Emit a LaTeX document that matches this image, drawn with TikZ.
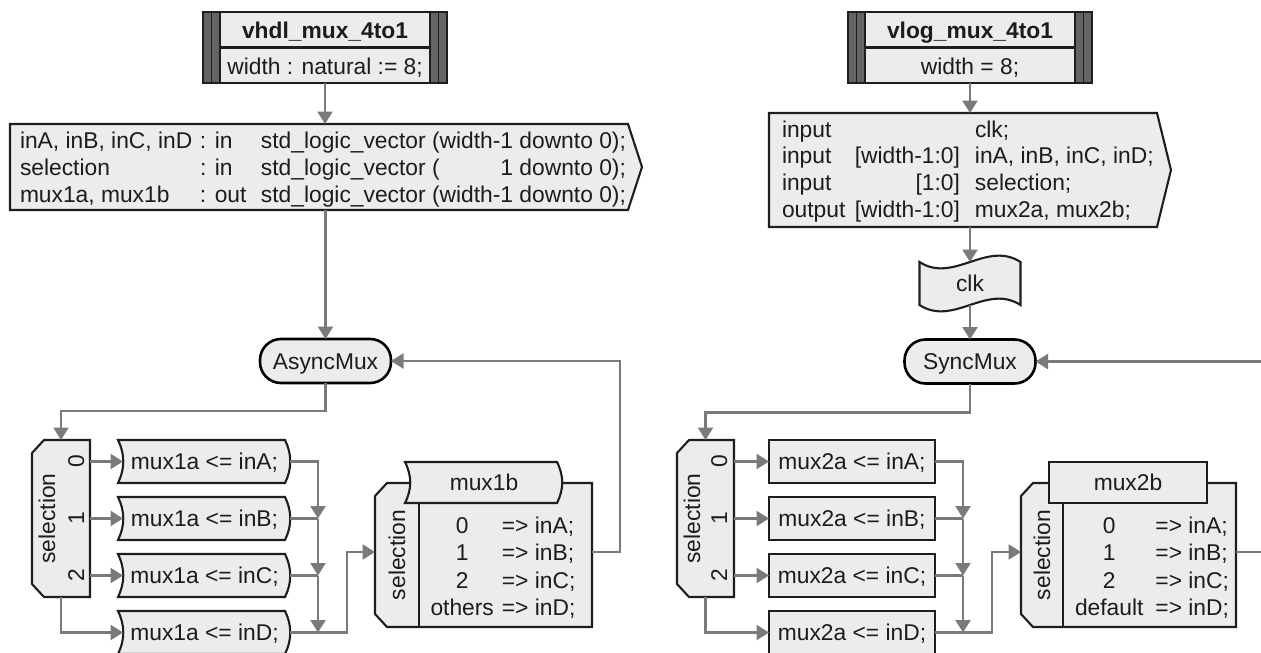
\documentclass[tikz,border=0pt]{standalone}
\usepackage{fontspec}
\setmainfont{Liberation Sans}
\usetikzlibrary{arrows.meta}
\definecolor{boxfill}{RGB}{236,236,236}
\definecolor{boxline}{RGB}{30,30,30}
\definecolor{connline}{RGB}{122,122,122}
\definecolor{bardark}{RGB}{100,100,100}
\definecolor{txtcol}{RGB}{28,28,28}
\tikzset{
  area/.style={draw=none, rectangle, inner sep=0pt, outer sep=0pt},
  lbl/.style={inner sep=0pt, outer sep=0pt, text=txtcol, font=\fontsize{22.8}{26.7}\selectfont, text height=16.4pt, text depth=0pt},
  lblb/.style={lbl, font=\fontsize{22.8}{26.7}\selectfont\bfseries},
  rows/.style={inner sep=0pt, outer sep=0pt, text=txtcol, font=\fontsize{22.8}{26.7}\selectfont, anchor=west},
  caserows/.style={rows, font=\fontsize{22.8}{27.3}\selectfont},
  shp/.style={fill=boxfill, draw=boxline, line width=2.1pt, line join=miter},
  rectbox/.style={lbl, rectangle, fill=boxfill, draw=boxline, line width=2.1pt},
  term/.style={lbl, rectangle, rounded corners=21pt, fill=boxfill, draw=black, line width=2.6pt, minimum width=131pt, minimum height=44pt},
  conn/.style={draw=connline, line width=2.4pt},
  arr/.style={conn, -{Triangle[length=12.5pt,width=15pt]}},
}
\newcommand\curvybox[1]{%
  \path[shp] ([xshift=-3pt]#1.north west) .. controls +(7,14) and +(7,-14) .. ([xshift=-3pt]#1.south west)
    -- ([xshift=-3pt]#1.south east) .. controls +(7,-14) and +(7,14) .. ([xshift=-3pt]#1.north east) -- cycle;}
\newcommand\casebox[1]{%
  \path[shp] ([yshift=-13pt]#1.north west) -- ([xshift=12pt]#1.north west) -- (#1.north east)
    -- (#1.south east) -- ([xshift=12pt]#1.south west) -- ([yshift=13pt]#1.south west) -- cycle;}
\newcommand\titlebox[1]{%
  \path[fill=boxfill] (#1.north west) rectangle (#1.south east);
  \path[fill=bardark] (#1.north west) rectangle ([xshift=17pt]#1.south west);
  \path[fill=bardark] ([xshift=-17pt]#1.north east) rectangle (#1.south east);
  \draw[boxline, line width=1.7pt] ([xshift=8.5pt]#1.north west) -- ([xshift=8.5pt]#1.south west);
  \draw[boxline, line width=1.7pt] ([xshift=17pt]#1.north west) -- ([xshift=17pt]#1.south west);
  \draw[boxline, line width=1.7pt] ([xshift=-8.5pt]#1.north east) -- ([xshift=-8.5pt]#1.south east);
  \draw[boxline, line width=1.7pt] ([xshift=-17pt]#1.north east) -- ([xshift=-17pt]#1.south east);
  \draw[boxline, line width=2.1pt] ([xshift=17pt]#1.west) -- ([xshift=-17pt]#1.east);
  \draw[boxline, line width=2.1pt] (#1.north west) rectangle (#1.south east);}
\begin{document}
\begin{tikzpicture}[x=1pt,y=-1pt]
\path[use as bounding box, fill=white] (0,0) rectangle (1261,653);
\clip (0,0) rectangle (1261,653);

% ---------------- areas ----------------
\node[area, minimum width=244pt, minimum height=71pt] (T1) at (325,47.5) {};
\node[area, minimum width=618pt, minimum height=86pt] (P1) at (319,167) {};
\node[area, minimum width=58pt, minimum height=157pt] (Sel1) at (61,518.5) {};
\foreach \i in {1,2,3,4} {
  \node[area, minimum width=167pt, minimum height=43pt] (M\i) at (204.5,{461.5+57*(\i-1)}) {};
}
\node[area, minimum width=217pt, minimum height=144pt] (Case1) at (483.5,555) {};
\node[area, minimum width=152pt, minimum height=41pt] (H1) at (484,482.5) {};

\node[area, minimum width=244pt, minimum height=71pt] (T2) at (970,47.5) {};
\node[area, minimum width=388pt, minimum height=114pt] (P2) at (963,170) {};
\node[area, minimum width=101pt, minimum height=43pt] (F) at (970,283.5) {};
\node[area, minimum width=57pt, minimum height=157pt] (Sel2) at (705.5,518.5) {};
\node[area, minimum width=215pt, minimum height=144pt] (Case2) at (1128.5,555) {};

% ---------------- shapes ----------------
\titlebox{T1}
\titlebox{T2}
\path[shp] (P1.north west) -- (P1.north east) -- ([xshift=14pt]P1.east) -- (P1.south east) -- (P1.south west) -- cycle;
\path[shp] (P2.north west) -- (P2.north east) -- ([xshift=14pt]P2.east) -- (P2.south east) -- (P2.south west) -- cycle;
\path[shp] (F.north west) .. controls +(34,22) and +(-34,-22) .. (F.north east) -- (F.south east)
  .. controls +(-34,-22) and +(34,22) .. (F.south west) -- cycle;
\casebox{Sel1}
\casebox{Sel2}
\foreach \i in {1,2,3,4} {\curvybox{M\i}}
\casebox{Case1}
\draw[boxline, line width=2.1pt] ([xshift=44pt]Case1.north west) -- ([xshift=44pt]Case1.south west);
\curvybox{H1}
\casebox{Case2}
\draw[boxline, line width=2.1pt] ([xshift=42pt]Case2.north west) -- ([xshift=42pt]Case2.south west);

% ---------------- texts ----------------
\node[lblb] (T1a) at (325,30) {vhdl\_mux\_4to1};
\node[lbl] (T1b) at (325,66) {width : natural := 8;};
\node[lblb] (T2a) at (970,30) {vlog\_mux\_4to1};
\node[lbl] (T2b) at (970,66) {width = 8;};

\node[rows] (P1r) at (20,170) {\begin{tabular}{@{}l@{}}
\makebox[180pt][l]{inA, inB, inC, inD}\makebox[61pt][l]{: in}std\_logic\_vector (width-1 downto 0);\\
\makebox[180pt][l]{selection}\makebox[61pt][l]{: in}std\_logic\_vector (\hphantom{width-}1 downto 0);\\
\makebox[180pt][l]{mux1a, mux1b}\makebox[61pt][l]{: out}std\_logic\_vector (width-1 downto 0);
\end{tabular}};

\node[rows] (P2r) at (782,172) {\begin{tabular}{@{}l@{}}
\makebox[72pt][l]{input}\makebox[106pt][r]{}\hspace{15pt}clk;\\
\makebox[72pt][l]{input}\makebox[106pt][r]{[width-1:0]}\hspace{15pt}inA, inB, inC, inD;\\
\makebox[72pt][l]{input}\makebox[106pt][r]{[1:0]}\hspace{15pt}selection;\\
\makebox[72pt][l]{output}\makebox[106pt][r]{[width-1:0]}\hspace{15pt}mux2a, mux2b;
\end{tabular}};

\node[lbl] (Ft) at (970,283.5) {clk};

\node[term] (Async) at (325.5,361) {AsyncMux};
\node[term] (Sync) at (970,361.5) {SyncMux};

\node[lbl, rotate=90] (Sel1t) at (47,518.5) {selection};
\node[lbl, rotate=90] (Sel1a) at (76,461.5) {0};
\node[lbl, rotate=90] (Sel1b) at (76,518.5) {1};
\node[lbl, rotate=90] (Sel1c) at (76,575.5) {2};
\node[lbl, rotate=90] (Sel2t) at (692,518.5) {selection};
\node[lbl, rotate=90] (Sel2a) at (719,461.5) {0};
\node[lbl, rotate=90] (Sel2b) at (719,518.5) {1};
\node[lbl, rotate=90] (Sel2c) at (719,575.5) {2};

\node[lbl] (M1t) at (M1) {mux1a <= inA;};
\node[lbl] (M2t) at (M2) {mux1a <= inB;};
\node[lbl] (M3t) at (M3) {mux1a <= inC;};
\node[lbl] (M4t) at (M4) {mux1a <= inD;};

\node[rectbox, minimum width=166pt, minimum height=43pt] (N1) at (852,461.5) {mux2a <= inA;};
\node[rectbox, minimum width=166pt, minimum height=43pt] (N2) at (852,518.5) {mux2a <= inB;};
\node[rectbox, minimum width=166pt, minimum height=43pt] (N3) at (852,575.5) {mux2a <= inC;};
\node[rectbox, minimum width=166pt, minimum height=43pt] (N4) at (852,632.5) {mux2a <= inD;};

\node[lbl] (H1t) at (H1) {mux1b};
\node[lbl, rotate=90] (C1s) at (397,555) {selection};
\node[caserows] (C1r) at (430.5,569) {\begin{tabular}{@{}c@{\hspace{8pt}}l@{}}
0 & => inA;\\ 1 & => inB;\\ 2 & => inC;\\ others & => inD;\end{tabular}};

\node[rectbox, minimum width=158pt, minimum height=41pt] (H2) at (1128,482.5) {mux2b};
\node[lbl, rotate=90] (C2s) at (1042,555) {selection};
\node[caserows] (C2r) at (1075,569) {\begin{tabular}{@{}c@{\hspace{12pt}}l@{}}
0 & => inA;\\ 1 & => inB;\\ 2 & => inC;\\ default & => inD;\end{tabular}};

% ---------------- connectors ----------------
\coordinate (j1) at (318,518.5);
\coordinate (j2) at (318,575.5);
\coordinate (j3) at (318,632.5);
\coordinate (r1) at (347,600);
\coordinate (rl) at (620,450);
\coordinate (k1) at (963,518.5);
\coordinate (k2) at (963,575.5);
\coordinate (k3) at (963,632.5);
\coordinate (r2) at (992,600);
\coordinate (rr) at (1290,450);

\draw[arr] (T1.south) -- (T1.south |- P1.north);
\draw[arr] (Async.north |- P1.south) -- (Async.north);
\draw[arr] (Async.south) -- ++(0,28) -| (Sel1.north);
\foreach \i in {1,2,3} {\draw[arr] (Sel1.east |- M\i) -- ([xshift=2pt]M\i.west);}
\draw[arr] (Sel1.south) |- ([xshift=2pt]M4.west);
\draw[arr] ([xshift=2pt]M1.east) -| (j1);
\draw[conn] ([xshift=2pt]M2.east) -- (j1);
\draw[arr] (j1) -- (j2);
\draw[conn] ([xshift=2pt]M3.east) -- (j2);
\draw[arr] (j2) -- (j3);
\draw[arr] ([xshift=2pt]M4.east) -- (j3) -| (r1) |- ([yshift=3pt]Case1.west);
\draw[arr] ([yshift=3pt]Case1.east) -| (rl) |- (Async.east);

\draw[arr] (T2.south) -- (T2.south |- P2.north);
\draw[arr] (F.north |- P2.south) -- (F.north);
\draw[arr] (F.south) -- (Sync.north);
\draw[arr] (Sync.south) -- ++(0,29) -| (Sel2.north);
\foreach \i in {1,2,3} {\draw[arr] (Sel2.east |- N\i) -- (N\i.west);}
\draw[arr] (Sel2.south) |- (N4.west);
\draw[arr] (N1.east) -| (k1);
\draw[conn] (N2.east) -- (k1);
\draw[arr] (k1) -- (k2);
\draw[conn] (N3.east) -- (k2);
\draw[arr] (k2) -- (k3);
\draw[arr] (N4.east) -- (k3) -| (r2) |- ([yshift=3pt]Case2.west);
\draw[arr] ([yshift=3pt]Case2.east) -| (rr) |- (Sync.east);
\end{tikzpicture}
\end{document}
